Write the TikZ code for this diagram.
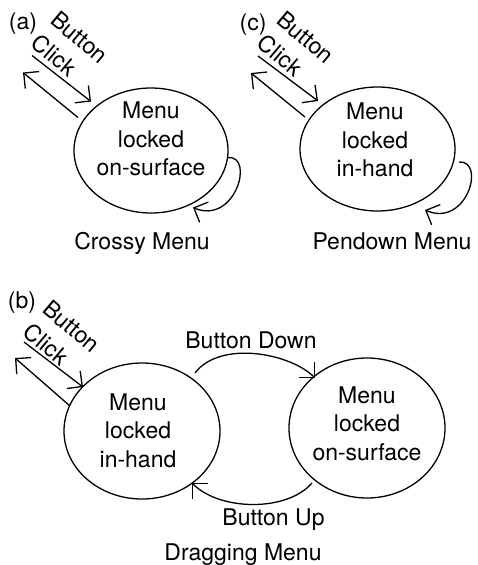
\documentclass[tikz,border=0pt]{standalone}
\usepackage{fontspec}
\setmainfont{TeX Gyre Heros}
\usetikzlibrary{arrows.meta,calc,shapes.geometric}
\begin{document}
\begin{tikzpicture}[x=1pt,y=-1pt,
  every node/.style={font=\fontsize{23}{28.5}\selectfont, inner sep=0pt},
  state/.style={draw, ellipse, line width=1.3pt},
  stack/.style={align=center},
  event/.style={align=left, rotate=-40, font=\fontsize{23}{30}\selectfont},
  caption/.style={anchor=base},
  wire/.style={line width=1.3pt, -{Straight Barb[length=11pt,width=22pt]}}
]
\useasboundingbox (0,0) rectangle (477,565);

% ---- (a) Crossy Menu ----
\node[state, minimum width=154pt, minimum height=125pt] (a) at (151,150.5) {};
\node[stack] (a-txt) at (151,139) {Menu\\locked\\on-surface};
\node (a-tag) at (23,24) {(a)};
\node[event] (a-ev) at (70,49) {Button\\Click};
\node[caption] (a-cap) at (142,249) {Crossy Menu};
\coordinate (a-in) at ($(a)+(-119,-95)$);
\coordinate (a-out) at ($(a)+(-128,-78)$);
\draw[wire] (a-in) -- ($(a)+(-60,-49)$);
\draw[wire] ($(a)+(-73,-33)$) -- (a-out);
\draw[wire] ($(a)+(77,7)$) .. controls +(27,-2) and +(42,18) .. ($(a)+(42,57)$);

% ---- (c) Pendown Menu ----
\node[state, minimum width=155pt, minimum height=124pt] (c) at (377.5,149) {};
\node[stack] (c-txt) at (375,140) {Menu\\locked\\in-hand};
\node (c-tag) at (253,25) {(c)};
\node[event] (c-ev) at (296,49) {Button\\Click};
\node[caption] (c-cap) at (392,249) {Pendown Menu};
\coordinate (c-in) at ($(c)+(-119.5,-93)$);
\coordinate (c-out) at ($(c)+(-126.5,-76)$);
\draw[wire] (c-in) -- ($(c)+(-59.5,-48)$);
\draw[wire] ($(c)+(-72.5,-32)$) -- (c-out);
\draw[wire] ($(c)+(81.5,13)$) .. controls +(27,-2) and +(42,18) .. ($(c)+(47.5,61)$);

% ---- (b) Dragging Menu ----
\node[state, minimum width=156pt, minimum height=136pt] (b1) at (142,431) {};
\node[state, minimum width=156pt, minimum height=140pt] (b2) at (367,428) {};
\node[stack] (b1-txt) at (138,430.5) {Menu\\locked\\in-hand};
\node[stack] (b2-txt) at (367,423.5) {Menu\\locked\\on-surface};
\node (b-tag) at (22,303) {(b)};
\node[event] (b-ev) at (62,338) {Button\\Click};
\node[caption] (b-down) at (251,348) {Button Down};
\node[caption] (b-up) at (273.5,525) {Button Up};
\node[caption] (b-cap) at (243,560) {Dragging Menu};
\coordinate (b-in) at ($(b1)+(-118,-89)$);
\coordinate (b-out) at ($(b1)+(-127,-73)$);
\draw[wire] (b-in) -- ($(b1)+(-59,-44)$);
\draw[wire] ($(b1)+(-72,-25)$) -- (b-out);
\draw[wire] ($(b1)+(53,-58)$) .. controls +(25,-33) and +(-25,-25) .. ($(b2)+(-52,-50)$);
\draw[wire] ($(b2)+(-55,55)$) .. controls +(-25,29) and +(28,28) .. ($(b1)+(50,52)$);
\end{tikzpicture}
\end{document}
